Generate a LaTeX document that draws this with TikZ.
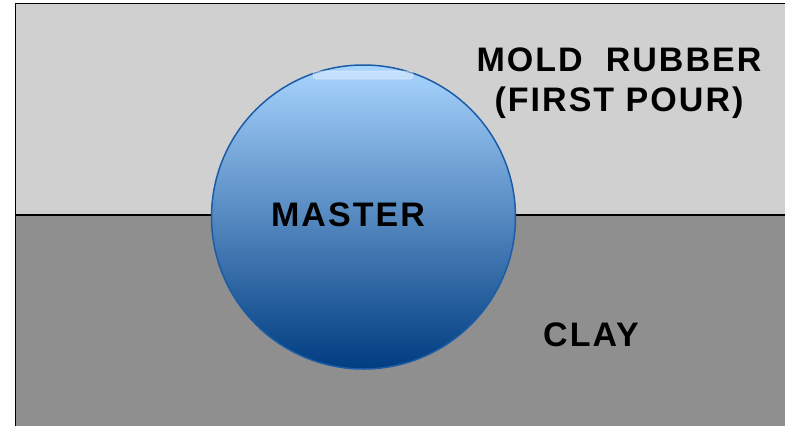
\documentclass[tikz,border=0pt]{standalone}
\usepackage{fontspec}
\setmainfont{Liberation Sans}[LetterSpace=6]
\begin{document}
\begin{tikzpicture}[x=1pt,y=-1pt,
  label/.style={font=\bfseries\fontsize{34}{40}\selectfont, text=black, inner sep=0pt, anchor=base},
  border/.style={draw=black, line width=1.6pt}]
\definecolor{lightgr}{HTML}{D0D0D0}
\definecolor{darkgr}{HTML}{8F8F8F}
\definecolor{balltop}{HTML}{A9D5FF}
\definecolor{ballmid}{HTML}{70AAEA}
\definecolor{ballbot}{HTML}{003C80}
\definecolor{ballline}{HTML}{1A5CA8}
\useasboundingbox (0,0) rectangle (785,426);
\fill[white] (0,0) rectangle (785,426);
\fill[lightgr] (15.5,3.5) rectangle (785,215);
\fill[darkgr] (15.5,215) rectangle (785,426);
\draw[border] (15.5,426) -- (15.5,3.5) -- (785,3.5);
\draw[border] (15.5,215) -- (785,215);
\node[circle, minimum size=304pt, inner sep=0pt, draw=ballline, line width=1.5pt,
  top color=balltop, middle color=ballmid, bottom color=ballbot] (master) at (363.5,217) {};
\node[rounded corners=3pt, minimum width=100pt, minimum height=8pt, inner sep=0pt,
  fill=white, fill opacity=0.35, draw=white, draw opacity=0.4, line width=0.6pt] (hl) at (363,75) {};
\node[label] (t1) at (619,71) {MOLD\ \ RUBBER};
\node[label] (t2) at (619,111) {(FIRST POUR)};
\node[label] (t3) at (348,226) {MASTER};
\node[label] (t4) at (591,346) {CLAY};
\end{tikzpicture}
\end{document}
